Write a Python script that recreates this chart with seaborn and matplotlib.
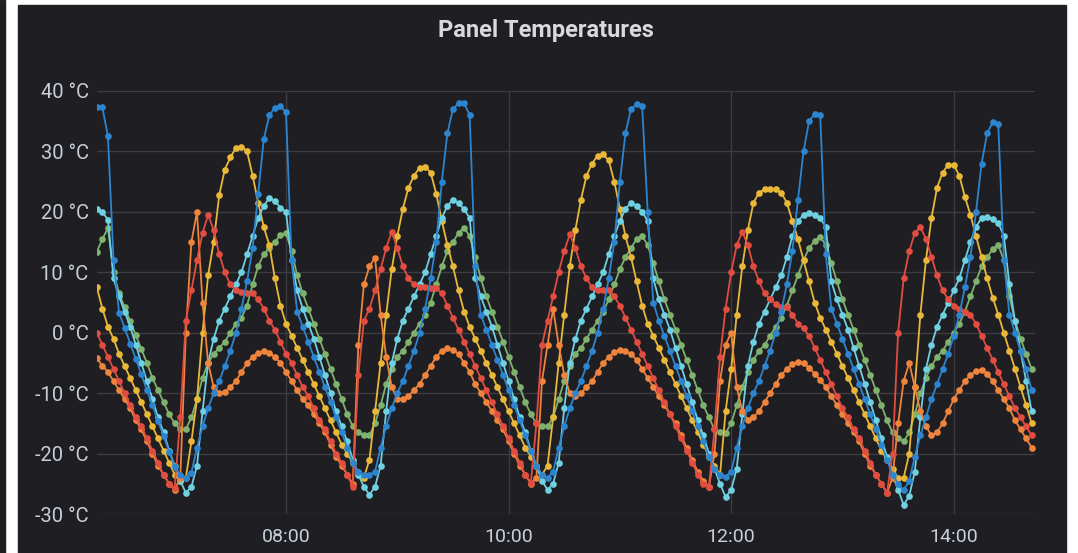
import matplotlib
matplotlib.use("Agg")
import pandas as pd
import seaborn as sns
import matplotlib.pyplot as plt
import matplotlib.dates as mdates
from matplotlib.patches import Rectangle

# readings every 3 minutes, 06:18 -> 14:42
times = pd.date_range("2019-06-01 06:18", periods=169, freq="3min")

green_temps = [
    13.4, 15.5, 17.3, 10, 6.5, 4.2, 1.9, -0.4, -2.7, -5, -7.5, -9.5, -11.5, -13.5, -15, -16,
    -16, -14, -11, -7.5, -5, -3.5, -2.5, -1.5, 0, 1.5, 2.5, 4.5, 8, 11, 13, 14, 15, 16.2, 16.5, 13.5,
    9.5, 6.5, 4, 1.5, -1, -3.5, -6, -8.5, -11, -13.5, -15.5, -16.5, -17,
    -17, -15, -12, -8.5, -6, -4, -3, -1.5, 0, 1.5, 3, 5, 8, 11, 13.5, 15, 16.5, 17.4, 16, 12.5,
    9, 6, 3.5, 1, -1.5, -4, -6.5, -9, -11.5, -13.5, -15, -15.5,
    -15.5, -14, -11, -8, -5.5, -3.5, -2.5, -1, 0.5, 2, 3.5, 5.5, 8, 10.5, 12.5, 14, 15.5, 16, 14.5, 11.5,
    8.5, 5.5, 3, 0.5, -2, -4.5, -7, -9.5, -12, -14, -16, -16.5,
    -16.6, -15, -12, -9, -6.5, -4.5, -3, -2, -0.5, 1, 2.5, 4.5, 7, 9.5, 12, 14, 15.2, 15.9, 14.5, 11.5,
    8.5, 5.5, 3, 0.5, -2, -4.5, -7, -9.5, -12, -14.5, -16.5, -17.5,
    -18, -16.5, -13.5, -10, -7.5, -5.5, -4, -3, -1.5, 0, 1.5, 3.5, 6, 8.5, 11, 12.5, 13.8, 14.5, 12, 6,
    2, -1, -3.5, -6,
]

yellow_temps = [
    7.5, 4, 1, -1, -3.5, -5.5, -7.5, -9.5, -11.5, -13.5, -15.5, -17.5, -19.5, -21.5, -23.5, -24.5,
    -24, -18, -11, 0, 9.5, 15, 22.8, 27, 29, 30.6, 30.8, 30, 26, 21.5, 17.5, 14.5, 9, 4.5, 1.5, -0.5,
    -2.5, -4.5, -6.5, -8.5, -10.5, -12.5, -14.5, -16.5, -18.5, -20, -21.5, -23, -24,
    -21, -13, -5, 3, 10.5, 16, 20.5, 24, 26, 27.3, 27.5, 26.5, 23, 18.5, 14.5, 11, 7, 3.5, 1, -1,
    -3, -5, -7, -9, -11, -13, -15, -17, -19, -20.5, -22, -23.5,
    -22, -14, -5, 3, 11, 17, 22, 26, 28, 29.3, 29.5, 28.5, 25, 20.5, 16, 12.5, 8.5, 4.5, 1.5, -0.5,
    -2.5, -4.5, -6.5, -8.5, -10.5, -12.5, -14.5, -16.5, -18.5, -20.5, -22, -23.5,
    -13, -6, 3, 11, 17, 21.5, 23.2, 23.7, 23.8, 23.7, 23.2, 21.5, 18.5, 15.5, 12, 8.5, 5, 2.5, 0.5, -1.5,
    -3.5, -5.5, -7.5, -9.5, -11.5, -13.5, -15.5, -17.5, -19.5, -21, -22.5, -24,
    -24, -20, -9, 3, 12, 19, 24, 26.5, 27.8, 27.8, 26, 22.5, 19.5, 16, 12.5, 9, 5.8, 3, 0, -3,
    -6, -9, -12, -15,
]

cyan_temps = [
    20.5, 20, 18.7, 9, 6, 3.5, 1, -2, -5, -8, -11, -14, -16.5, -19.5, -22, -24.5,
    -26.5, -25.5, -22, -13, -5, -1, 2, 4, 6, 8, 10, 13, 16, 19, 21, 22.3, 21.8, 20.7, 20, 12,
    7, 4, 1.5, -1, -4, -7, -10, -13, -15.5, -18, -21, -23.5, -25.5,
    -26.8, -25.5, -22, -13, -5, -1, 2, 4, 6, 8, 10, 13, 16, 19, 21, 22, 21.5, 20.4, 19, 9,
    6, 3.5, 1, -2, -5, -8, -11, -14, -16.5, -19.5, -22, -24.5,
    -26, -25, -21.5, -12.5, -5, -1, 2, 4, 6, 8, 10, 13, 16, 18.5, 20.5, 21.5, 21, 20, 18.5, 9,
    5.5, 3, 0.5, -2.5, -5.5, -8.5, -11.5, -14.5, -17, -20, -22.5, -25,
    -27.2, -26, -22.5, -13.5, -5.5, -1.5, 1.5, 3.5, 5.5, 7.5, 9.5, 12.5, 16, 18.5, 19.5, 19.8, 19.5, 19, 17.5, 8.5,
    5.5, 3, 0.5, -2.5, -5.5, -8.5, -11.5, -14.5, -17.5, -20.5, -23.5, -26,
    -28.5, -27, -23, -14, -6, -2, 1, 3, 5, 7, 9, 12, 15, 17.5, 19, 19.2, 18.8, 18.2, 16, 8,
    2, -3, -8, -13,
]

orange_temps = [
    -4.2, -5.5, -6.5, -8, -9.5, -11, -12.5, -14.5, -16, -18, -20, -22, -23.5, -25, -26, -24,
    0, 15, 20, 5, -5, -9, -10, -9.8, -9, -8, -6.5, -5, -4, -3.3, -3.1, -3.3, -4, -5, -6.5, -8,
    -9.5, -11, -12, -13.5, -15, -16.5, -18.5, -20.5, -22, -23.5, -25, -2, 8,
    11, 12.4, 3, -4, -9, -11, -11, -10.5, -9.5, -8.5, -7, -5.5, -4, -3, -2.5, -2.8, -3.5, -5, -6.5, -8.5,
    -10, -11.5, -13, -14.5, -16, -18, -20, -22, -23.5, -25, -24, -8,
    -2, 4, -2, -7, -10, -10.5, -10, -9, -8, -6.5, -5, -4, -3.2, -2.8, -3, -3.5, -4.5, -6, -7.5, -9,
    -10.5, -12, -13.5, -15, -17, -19, -21, -23, -24.5, -25.5, -20, -8,
    -2, 0, -9, -13, -14.4, -14, -13, -11.5, -10, -8.5, -7, -6, -5.2, -4.8, -5, -5.8, -6.8, -7.8, -9, -10.5,
    -12, -13.5, -15, -16.5, -18, -20, -22, -23.5, -25, -26.5, -24, -15,
    -8, -5, -9, -13, -15.5, -17, -16.5, -15, -13, -11, -9.5, -8, -7, -6.3, -6.1, -6.8, -8, -9.5, -11, -12.5,
    -14.5, -16, -17.5, -19,
]

red_temps = [
    0, -2, -4, -6, -8, -10, -12, -14, -15.5, -17.5, -19.5, -21.5, -23.5, -25, -25.7, -14,
    2, 7, 12, 16.5, 19.5, 17, 13, 10, 8, 7, 6.8, 6.6, 6.5, 5.5, 4, 2, 0.5, -1.5, -3.5, -5,
    -7, -9, -10.5, -12.5, -14.5, -16, -18, -20, -21.5, -23.5, -25.5, -7, 2,
    4, 7, 10.5, 14, 16.7, 14, 11, 9, 8, 7.5, 7.5, 7.4, 7.4, 6.5, 4.5, 2.5, 0.5, -1.5, -3.5, -5.5,
    -7.5, -9.5, -11.5, -13.5, -15.5, -17.5, -19.5, -21.5, -23.5, -24.8, -15, -2,
    2, 6, 10, 13.5, 16.3, 14, 11, 9, 7.5, 7, 7, 7, 6, 4.5, 2.5, 0.5, -1.5, -3.5, -5.5, -7.5,
    -9.5, -11.5, -13.5, -15.5, -17.5, -19.5, -21.5, -23.5, -25, -25.5, -16, -4,
    4, 10, 14.5, 16.7, 14.5, 11, 8.5, 6.5, 5.5, 4.8, 4.3, 4.3, 3, 1.5, 0.7, -0.5, -2.5, -4.5, -6.5, -8.5,
    -10.5, -12.5, -14, -16, -17.5, -19.5, -21.5, -23.5, -25, -26.5, -20, 0,
    9, 13.5, 16.5, 17.5, 15.5, 12.5, 9.5, 7, 5.5, 4.5, 4, 3.5, 3, 1.5, -0.5, -2.5, -4.5, -6.5, -8.5, -10.5,
    -12.5, -14, -15.5, -17,
]

blue_temps = [
    37.4, 37.3, 32.5, 12, 3.3, 0.8, -1.8, -4.3, -6.9, -9.5, -12, -14.6, -17.1, -19.7, -22.2, -23.5,
    -24, -23.2, -19, -15.5, -12.5, -10, -8, -5.5, -3, 0, 4, 8.5, 14, 23, 32, 36, 37.2, 37.5, 36.5, 12,
    3.5, 1, -1.5, -4, -6.5, -9, -11.5, -14, -16.5, -19, -21.5, -23, -23.5,
    -23.5, -23, -19, -15.5, -12.5, -10, -8, -5.5, -3, 0, 4, 9, 15, 25, 33, 37, 38, 38, 36, 11,
    3, 0.5, -2, -4.5, -7, -9.5, -12, -14.5, -17, -19.5, -22, -23.5,
    -24, -23, -19, -15.5, -12.5, -10, -8, -5.5, -3, 0, 4, 9, 15, 25, 33, 37, 37.8, 37.5, 20, 5,
    2, -0.5, -3, -5.5, -8, -10.5, -13, -15.5, -18, -20.5, -22.5, -23.5,
    -23.8, -23, -19, -15.5, -12.5, -10, -8, -5.5, -3, 0, 3.5, 8, 13.5, 22, 30, 35, 36.2, 36, 13, 4,
    1.5, -1, -3.5, -6, -8.5, -11, -13.5, -16, -18.5, -21, -23.5, -25,
    -26, -24.5, -20.5, -17, -14, -11, -8.5, -6, -3.5, -0.5, 3, 7.5, 12.5, 20, 28, 33, 34.8, 34.5, 12, 3,
    0, -3, -6, -9.5,
]

series_names = ["green", "yellow", "cyan", "orange", "red", "blue"]
series_colors = ["#7EB26D", "#EAB839", "#6ED0E0", "#EF843C", "#E24D42", "#2d85d0"]
y_ticks = [-30, -20, -10, 0, 10, 20, 30, 40]

frames = []
for name, vals in zip(series_names,
                      [green_temps, yellow_temps, cyan_temps, orange_temps, red_temps, blue_temps]):
    frames.append(pd.DataFrame({"time": times, "temp": vals, "sensor": name}))
df = pd.concat(frames, ignore_index=True)

panel_bg = "#1f1e22"
text_col = "#c7d0d9"

sns.set_theme(style="dark")
plt.rcParams["font.family"] = ["Roboto", "DejaVu Sans"]

fig = plt.figure(figsize=(10.78, 5.53), dpi=100, facecolor="white")
# panel background + the thin dark strip on the far left of the screenshot
fig.patches.append(Rectangle((18 / 1078, 0), 1048 / 1078, 548 / 553,
                             transform=fig.transFigure, color=panel_bg, zorder=-5))
fig.patches.append(Rectangle((0, 0), 5 / 1078, 1,
                             transform=fig.transFigure, color=panel_bg, zorder=-5))

ax = fig.add_axes([97 / 1078, 39 / 553, 938 / 1078, 423 / 553])
ax.set_facecolor(panel_bg)
ax.set_zorder(2)

sns.lineplot(data=df, x="time", y="temp", hue="sensor", hue_order=series_names,
             palette=dict(zip(series_names, series_colors)), marker="o", markersize=4.8,
             markeredgewidth=0, linewidth=1.3, estimator=None, sort=False,
             legend=False, ax=ax)

ax.set_xlim(pd.Timestamp("2019-06-01 06:18:06"), pd.Timestamp("2019-06-01 14:43:48"))
ax.set_ylim(-30, 40)
ax.xaxis.set_major_locator(mdates.HourLocator(byhour=[8, 10, 12, 14]))
ax.xaxis.set_major_formatter(mdates.DateFormatter("%H:%M"))
ax.set_yticks(y_ticks)
ax.set_yticklabels([f"{v} °C" for v in y_ticks])

ax.grid(True, color="#3c3c41", linewidth=1)
ax.set_axisbelow(True)
ax.tick_params(axis="both", length=0, colors=text_col)
ax.tick_params(axis="x", pad=10, labelsize=14)
ax.tick_params(axis="y", pad=6, labelsize=14.5)
ax.set_xlabel("")
ax.set_ylabel("")
for s in ax.spines.values():
    s.set_visible(False)

fig.text(546 / 1078, 1 - 31 / 553, "Panel Temperatures", ha="center", va="center",
         color="#d8d9da", fontsize=17, fontweight="bold")

fig.savefig("out.png", dpi=100, facecolor="white")
